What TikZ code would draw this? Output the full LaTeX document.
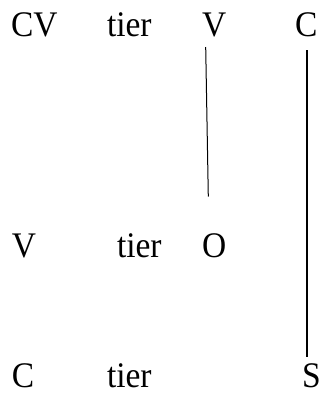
\documentclass[tikz,border=0pt]{standalone}
\usepackage{fontspec}
\setmainfont{Liberation Serif}
\newcommand{\narrowtxt}[1]{\scalebox{0.93}[1]{#1}}
\begin{document}
\begin{tikzpicture}[x=1pt,y=-1pt,
  lbl/.style={anchor=base west,inner sep=0pt,outer sep=0pt,font=\fontsize{36}{42}\selectfont}]
\useasboundingbox (0,0) rectangle (328,394);
\node[lbl] (cv) at (11,36.5) {\narrowtxt{CV}};
\node[lbl] (t1) at (107,36.5) {\narrowtxt{tier}};
\node[lbl] (v1) at (202,36.5) {\narrowtxt{V}};
\node[lbl] (c1) at (295,36.5) {\narrowtxt{C}};
\node[lbl] (v2) at (12,257) {\narrowtxt{V}};
\node[lbl] (t2) at (117,257) {\narrowtxt{tier}};
\node[lbl] (o) at (202,257) {\narrowtxt{O}};
\node[lbl] (c3) at (12,387.5) {\narrowtxt{C}};
\node[lbl] (t3) at (107,387.5) {\narrowtxt{tier}};
\node[lbl] (s) at (302,387.5) {\narrowtxt{S}};
\coordinate (a1) at (205.7,47);
\coordinate (a2) at (208.3,196.5);
\coordinate (b1) at (307.3,50);
\coordinate (b2) at (307.3,356.5);
\draw[line width=1pt] (a1) -- (a2);
\draw[line width=2pt] (b1) -- (b2);
\end{tikzpicture}
\end{document}
